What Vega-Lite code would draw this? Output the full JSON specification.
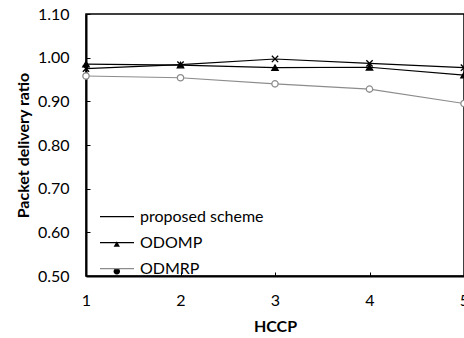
{
  "$schema": "https://vega.github.io/schema/vega-lite/v6.json",
  "width": 378,
  "height": 262,
  "autosize": {"type": "none"},
  "padding": {"left": 86, "top": 14, "right": 0, "bottom": 62},
  "background": "white",
  "config": {
    "font": "Lato",
    "view": {"stroke": "black", "strokeWidth": 1.5},
    "axis": {
      "grid": false,
      "domainColor": "black",
      "domainWidth": 2,
      "tickColor": "black",
      "tickWidth": 1,
      "tickSize": -4,
      "labelFlush": false,
      "labelColor": "black",
      "labelFontSize": 16,
      "labelFont": "Lato",
      "titleColor": "black",
      "titleFont": "Lato",
      "titleFontSize": 16,
      "titleFontWeight": "bold"
    },
    "legend": {
      "padding": 0,
      "labelFontSize": 16,
      "labelFont": "Lato",
      "labelColor": "black",
      "labelOffset": 5
    }
  },
  "resolve": {"scale": {"color": "independent"}, "legend": {"color": "independent"}},
  "data": {
    "values": [
      {"hccp": 1, "series": "proposed scheme", "scheme": "proposed scheme", "pdr": 0.975},
      {"hccp": 2, "series": "proposed scheme", "scheme": "proposed scheme", "pdr": 0.984},
      {"hccp": 3, "series": "proposed scheme", "scheme": "proposed scheme", "pdr": 0.997},
      {"hccp": 4, "series": "proposed scheme", "scheme": "proposed scheme", "pdr": 0.987},
      {"hccp": 5, "series": "proposed scheme", "scheme": "proposed scheme", "pdr": 0.977},
      {"hccp": 1, "series": "ODOMP", "scheme": "ODOMP", "pdr": 0.985},
      {"hccp": 2, "series": "ODOMP", "scheme": "ODOMP", "pdr": 0.983},
      {"hccp": 3, "series": "ODOMP", "scheme": "ODOMP", "pdr": 0.977},
      {"hccp": 4, "series": "ODOMP", "scheme": "ODOMP", "pdr": 0.978},
      {"hccp": 5, "series": "ODOMP", "scheme": "ODOMP", "pdr": 0.96},
      {"hccp": 1, "series": "ODMRP", "scheme": "ODMRP", "pdr": 0.958},
      {"hccp": 2, "series": "ODMRP", "scheme": "ODMRP", "pdr": 0.954},
      {"hccp": 3, "series": "ODMRP", "scheme": "ODMRP", "pdr": 0.94},
      {"hccp": 4, "series": "ODMRP", "scheme": "ODMRP", "pdr": 0.928},
      {"hccp": 5, "series": "ODMRP", "scheme": "ODMRP", "pdr": 0.895}
    ]
  },
  "encoding": {
    "x": {
      "field": "hccp",
      "type": "quantitative",
      "scale": {"domain": [1, 5], "nice": false},
      "axis": {"values": [1, 2, 3, 4, 5], "format": "d", "title": "HCCP", "labelPadding": 20, "titlePadding": 10}
    },
    "y": {
      "field": "pdr",
      "type": "quantitative",
      "scale": {"domain": [0.5, 1.1], "nice": false, "zero": false},
      "axis": {"values": [0.5, 0.6, 0.7, 0.8, 0.9, 1.0, 1.1], "format": ".2f", "title": "Packet delivery ratio", "labelPadding": 21, "titlePadding": 6}
    }
  },
  "layer": [
    {
      "mark": {"type": "line", "strokeWidth": 1.2},
      "encoding": {
        "color": {
          "field": "series",
          "type": "nominal",
          "scale": {"domain": ["proposed scheme", "ODOMP", "ODMRP"], "range": ["black", "black", "#8c8c8c"]},
          "legend": {
            "title": null,
            "orient": "none",
            "legendX": 13,
            "legendY": 184.7,
            "rowPadding": -12.7,
            "symbolType": "M-1,0L1,0",
            "symbolSize": 1156,
            "symbolStrokeWidth": 1.2
          }
        }
      }
    },
    {
      "mark": {"type": "point", "opacity": 1, "strokeWidth": 1.3, "filled": false},
      "encoding": {
        "shape": {
          "field": "scheme",
          "type": "nominal",
          "sort": ["proposed scheme", "ODOMP", "ODMRP"],
          "scale": {"range": ["M-1,-1L1,1M-1,1L1,-1", "triangle-up", "circle"]},
          "legend": {
            "title": null,
            "orient": "none",
            "legendX": 26.8,
            "legendY": 198.7,
            "rowPadding": 15.3,
            "labelExpr": "''",
            "labelFontSize": 1,
            "labelOpacity": 0,
            "symbolSize": 40,
            "symbolStrokeWidth": 1.3,
            "symbolOpacity": 1,
            "encode": {
              "symbols": {
                "update": {
                  "fill": {"signal": "datum.value === 'ODOMP' ? 'black' : datum.value === 'ODMRP' ? 'white' : 'transparent'"},
                  "stroke": {"signal": "datum.value === 'ODMRP' ? '#8c8c8c' : 'black'"},
                  "strokeWidth": {"value": 1.3},
                  "opacity": {"value": 1}
                }
              }
            }
          }
        },
        "color": {
          "field": "series",
          "type": "nominal",
          "scale": {"domain": ["proposed scheme", "ODOMP", "ODMRP"], "range": ["black", "black", "#8c8c8c"]},
          "legend": null
        },
        "fill": {
          "field": "series",
          "type": "nominal",
          "scale": {"domain": ["proposed scheme", "ODOMP", "ODMRP"], "range": ["transparent", "black", "white"]},
          "legend": null
        },
        "size": {
          "field": "series",
          "type": "nominal",
          "scale": {"domain": ["proposed scheme", "ODOMP", "ODMRP"], "range": [40, 40, 20]},
          "legend": null
        }
      }
    }
  ]
}
